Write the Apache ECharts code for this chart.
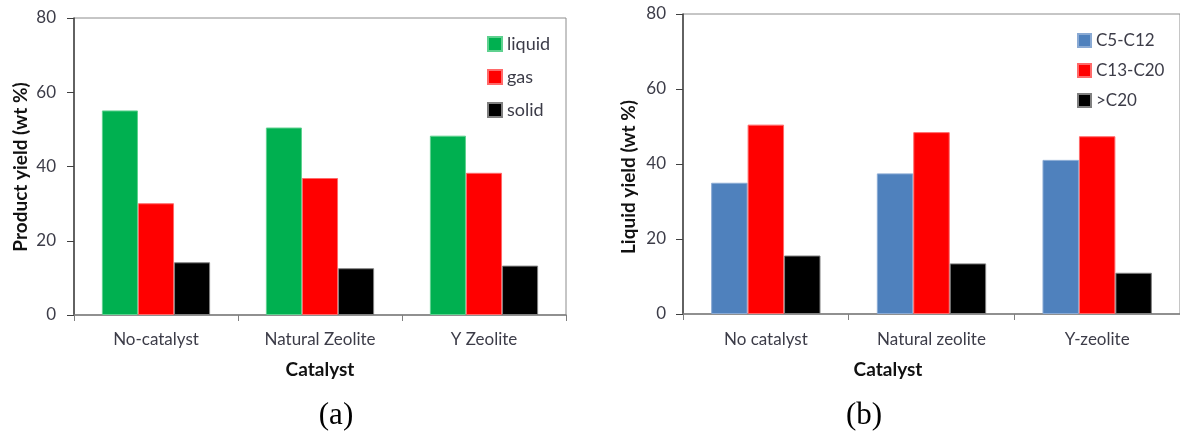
<!DOCTYPE html>
<html>
<head>
<meta charset="utf-8">
<script src="https://cdn.jsdelivr.net/npm/echarts@6/dist/echarts.min.js"></script>
<style>
  html, body { margin: 0; padding: 0; background: #fff; }
  #chart { width: 1180px; height: 437px; }
</style>
</head>
<body>
<div id="chart"></div>
<script>
// (a) product distribution by catalyst
const catsA = ['No-catalyst', 'Natural Zeolite', 'Y Zeolite'];
const liquid = [55.1, 50.5, 48.3];
const gas = [30.1, 36.9, 38.3];
const solid = [14.2, 12.6, 13.3];

// (b) liquid fraction distribution by catalyst
const catsB = ['No catalyst', 'Natural zeolite', 'Y-zeolite'];
const c5c12 = [35.0, 37.5, 41.1];
const c13c20 = [50.5, 48.5, 47.4];
const gtC20 = [15.6, 13.5, 11.0];

const yTicks = [0, 20, 40, 60, 80];

const labelFont = 'Lato, "Open Sans", sans-serif';
const labelColor = '#3c3c48';

function yAxisCfg(gridIndex, margin) {
  return {
    type: 'value', gridIndex: gridIndex,
    min: yTicks[0], max: yTicks[yTicks.length - 1], interval: yTicks[1] - yTicks[0],
    splitLine: { show: false },
    axisLine: { show: true, lineStyle: { color: '#404040', width: 1.5 } },
    axisTick: { show: true, length: 7, lineStyle: { color: '#404040' } },
    axisLabel: { margin: margin, fontFamily: labelFont, fontSize: 17, color: labelColor }
  };
}
function xAxisCfg(gridIndex, cats, margin) {
  return {
    type: 'category', gridIndex: gridIndex, data: cats,
    axisLine: { show: true, lineStyle: { color: '#7f7f7f', width: 1.5 } },
    axisTick: { show: true, length: 6, alignWithLabel: false, lineStyle: { color: '#7f7f7f' } },
    axisLabel: { margin: margin, fontFamily: labelFont, fontSize: 17, color: labelColor }
  };
}
function barSeries(name, data, color, axis, border) {
  return {
    name: name, type: 'bar', data: data,
    xAxisIndex: axis, yAxisIndex: axis,
    barGap: '0%', barCategoryGap: '34%',
    itemStyle: { color: color, borderColor: border, borderWidth: 1 }
  };
}

const chart = echarts.init(document.getElementById('chart'), null, { renderer: 'canvas' });
chart.setOption({
  animation: false,
  backgroundColor: '#fff',
  grid: [
    { left: 74, top: 18, width: 492, height: 297, show: true, borderColor: '#8c8c8c', borderWidth: 1 },
    { left: 683, top: 14, width: 499, height: 300, show: true, borderColor: '#8c8c8c', borderWidth: 1 }
  ],
  xAxis: [xAxisCfg(0, catsA, 16), xAxisCfg(1, catsB, 17)],
  yAxis: [yAxisCfg(0, 18), yAxisCfg(1, 17)],
  legend: [
    {
      data: ['liquid', 'gas', 'solid'], orient: 'vertical', left: 487, top: 35, padding: 0,
      itemWidth: 14, itemHeight: 14, itemGap: 15, icon: 'rect',
      textStyle: { fontFamily: labelFont, fontSize: 18, color: labelColor }
    },
    {
      data: ['C5-C12', 'C13-C20', '>C20'], orient: 'vertical', left: 1077, top: 32, padding: 0,
      itemWidth: 13, itemHeight: 13, itemGap: 13, icon: 'rect',
      textStyle: { fontFamily: labelFont, fontSize: 17, color: labelColor }
    }
  ],
  series: [
    barSeries('liquid', liquid, '#00b050', 0, '#5fd18f'),
    barSeries('gas', gas, '#ff0000', 0, '#ff6a6a'),
    barSeries('solid', solid, '#000000', 0, '#808080'),
    barSeries('C5-C12', c5c12, '#4f81bd', 1, '#8aaad4'),
    barSeries('C13-C20', c13c20, '#ff0000', 1, '#ff6a6a'),
    barSeries('>C20', gtC20, '#000000', 1, '#808080')
  ],
  graphic: [
    { type: 'text', x: 20.5, y: 167, rotation: Math.PI / 2,
      style: { text: 'Product yield (wt %)', fontFamily: labelFont, fontWeight: 'bold', fontSize: 19, fill: '#111', align: 'center', verticalAlign: 'middle' } },
    { type: 'text', x: 629, y: 177, rotation: Math.PI / 2,
      style: { text: 'Liquid yield (wt %)', fontFamily: labelFont, fontWeight: 'bold', fontSize: 19, fill: '#111', align: 'center', verticalAlign: 'middle' } },
    { type: 'text', x: 320, y: 370,
      style: { text: 'Catalyst', fontFamily: labelFont, fontWeight: 'bold', fontSize: 19, fill: '#111', align: 'center', verticalAlign: 'middle' } },
    { type: 'text', x: 888, y: 370,
      style: { text: 'Catalyst', fontFamily: labelFont, fontWeight: 'bold', fontSize: 19, fill: '#111', align: 'center', verticalAlign: 'middle' } },
    { type: 'text', x: 336, y: 416,
      style: { text: '(a)', fontFamily: '"Liberation Serif", "DejaVu Serif", serif', fontSize: 31, fill: '#000', align: 'center', verticalAlign: 'middle' } },
    { type: 'text', x: 864, y: 416,
      style: { text: '(b)', fontFamily: '"Liberation Serif", "DejaVu Serif", serif', fontSize: 31, fill: '#000', align: 'center', verticalAlign: 'middle' } }
  ]
});
</script>
</body>
</html>
